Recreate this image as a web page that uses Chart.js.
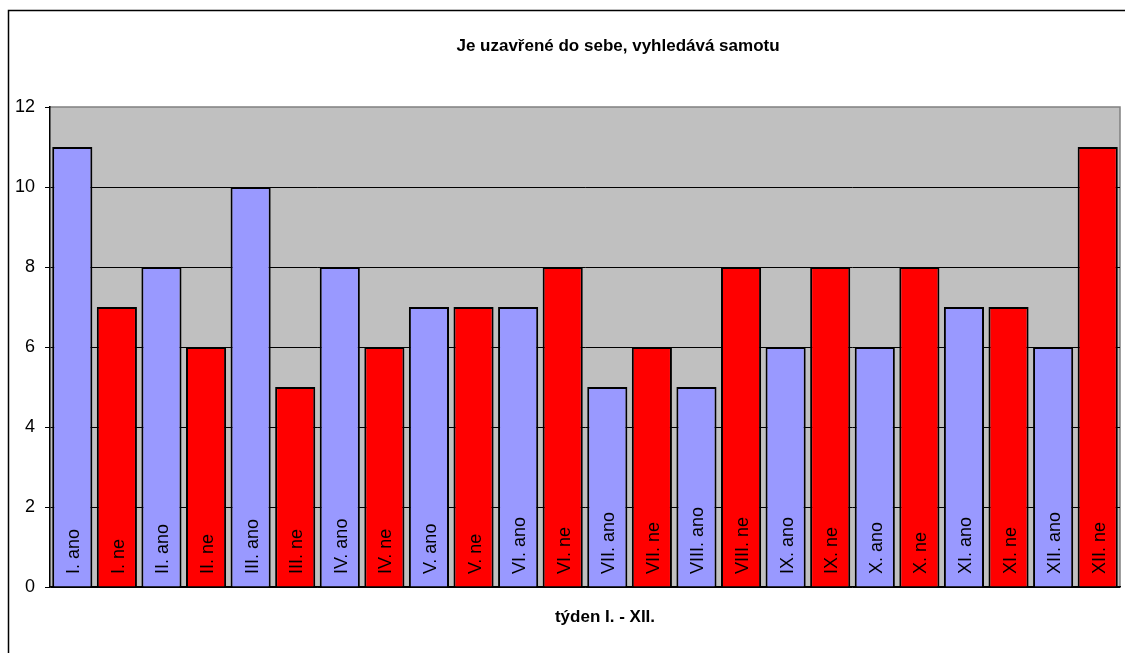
<!DOCTYPE html>
<html>
<head>
<meta charset="utf-8">
<script src="https://cdn.jsdelivr.net/npm/chart.js@4"></script>
<style>
  html, body { margin: 0; padding: 0; background: #fff; }
  #wrap { width: 1125px; height: 653px; }
</style>
</head>
<body>
<div id="wrap"><canvas id="weeksChart" width="1125" height="653"></canvas></div>
<script>
const categories = [
    'I. ano', 'I. ne', 'II. ano', 'II. ne', 'III. ano', 'III. ne',
    'IV. ano', 'IV. ne', 'V. ano', 'V. ne', 'VI. ano', 'VI. ne',
    'VII. ano', 'VII. ne', 'VIII. ano', 'VIII. ne', 'IX. ano', 'IX. ne',
    'X. ano', 'X. ne', 'XI. ano', 'XI. ne', 'XII. ano', 'XII. ne'
];
const values = [11, 7, 8, 6, 10, 5, 8, 6, 7, 7, 7, 8, 5, 6, 5, 8, 6, 8, 6, 8, 7, 7, 6, 11];
const yTicks = [0, 2, 4, 6, 8, 10, 12];

const chartTitle = 'Je uzavřené do sebe, vyhledává samotu';
const axisTitle = 'týden I. - XII.';

const ANO_COLOR = '#9999FF';
const NE_COLOR = '#FF0000';
const PLOT_BG = '#C0C0C0';
const FONT = 'Arial, "Liberation Sans", sans-serif';

// frame, grey plot area and the two grey edges of the plot
const framePlugin = {
    id: 'frame',
    beforeDraw(chart) {
        const { ctx, chartArea: a } = chart;
        ctx.save();
        ctx.fillStyle = '#fff';
        ctx.fillRect(0, 0, chart.width, chart.height);
        ctx.strokeStyle = '#000';
        ctx.lineWidth = 1.5;
        ctx.strokeRect(8.5, 10.5, chart.width + 20, chart.height + 20);
        ctx.fillStyle = PLOT_BG;
        ctx.fillRect(a.left, a.top, a.right - a.left, a.bottom - a.top);
        ctx.strokeStyle = '#808080';
        ctx.lineWidth = 1.5;
        ctx.beginPath();
        ctx.moveTo(a.left, a.top);
        ctx.lineTo(a.right, a.top);
        ctx.lineTo(a.right, a.bottom);
        ctx.stroke();
        ctx.restore();
    },
    afterDraw(chart) {
        const { ctx } = chart;
        ctx.save();
        ctx.fillStyle = '#000';
        ctx.font = 'bold 17px ' + FONT;
        ctx.textAlign = 'center';
        ctx.textBaseline = 'middle';
        ctx.fillText(chartTitle, 618, 46);
        ctx.fillText(axisTitle, 605, 617);
        ctx.restore();
    }
};

// category names written upright inside each bar
const barLabelPlugin = {
    id: 'barLabels',
    afterDatasetsDraw(chart) {
        const { ctx } = chart;
        const meta = chart.getDatasetMeta(0);
        const bottom = chart.scales.y.getPixelForValue(0);
        ctx.save();
        ctx.fillStyle = '#000';
        ctx.font = '18px ' + FONT;
        ctx.textAlign = 'left';
        ctx.textBaseline = 'alphabetic';
        meta.data.forEach((bar, i) => {
            ctx.save();
            ctx.translate(bar.x + 7, bottom - 13);
            ctx.rotate(-Math.PI / 2);
            ctx.fillText(categories[i], 0, 0);
            ctx.restore();
        });
        ctx.restore();
    }
};

new Chart(document.getElementById('weeksChart').getContext('2d'), {
    type: 'bar',
    data: {
        labels: categories,
        datasets: [{
            data: values,
            backgroundColor: categories.map(c => c.endsWith('ano') ? ANO_COLOR : NE_COLOR),
            borderColor: '#000',
            borderWidth: 2,
            barPercentage: 0.9,
            categoryPercentage: 1
        }]
    },
    options: {
        responsive: false,
        animation: false,
        layout: { padding: { left: 0, top: 107, right: 5, bottom: 66 } },
        plugins: {
            legend: { display: false },
            title: { display: false },
            tooltip: { enabled: false }
        },
        scales: {
            x: {
                grid: { display: false },
                border: { display: true, color: '#000', width: 1.5 },
                ticks: { display: false },
                afterFit(scale) { scale.height = 0; }
            },
            y: {
                min: 0,
                max: 12,
                afterBuildTicks(scale) { scale.ticks = yTicks.map(v => ({ value: v })); },
                afterFit(scale) { scale.width = 50; },
                grid: {
                    color: ctx => ctx.tick && ctx.tick.value === 12 ? 'rgba(0,0,0,0)' : '#000',
                    tickColor: '#000',
                    tickLength: 5,
                    lineWidth: 1
                },
                border: { display: true, color: '#000', width: 1.5 },
                ticks: {
                    color: '#000',
                    padding: 10,
                    font: { family: FONT, size: 18 }
                }
            }
        }
    },
    plugins: [framePlugin, barLabelPlugin]
});
</script>
</body>
</html>
